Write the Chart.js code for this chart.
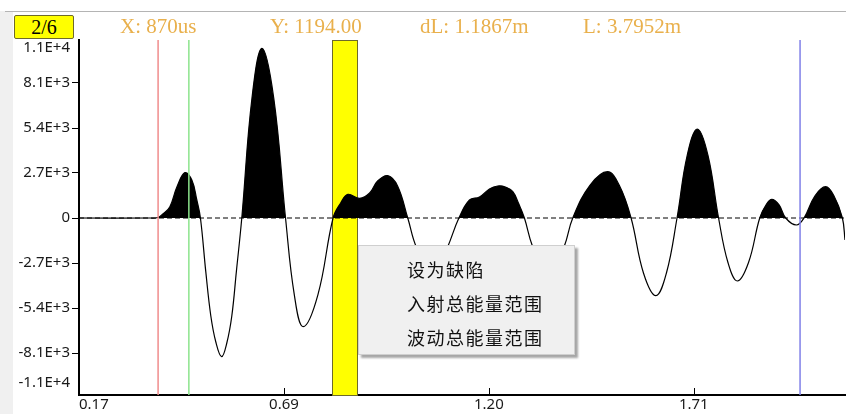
<!DOCTYPE html>
<html>
<head>
<meta charset="utf-8">
<script src="https://cdn.jsdelivr.net/npm/chart.js@4"></script>
<style>
  body { margin: 0; background: #fff; }
  #wrap { position: relative; width: 846px; height: 414px; overflow: hidden; }
  #strip { position: absolute; left: 0; top: 11px; width: 13px; height: 403px; background: #f0f0f0; }
  #topline { position: absolute; left: 5px; top: 11px; width: 841px; height: 1px; background: #b4b4b4; }
  #page { position: absolute; left: 14px; top: 15px; width: 58px; height: 22px; background: #ffff00;
          border: 1px solid #6e6a2a; border-radius: 2px; font: 20px "Liberation Serif"; line-height: 23px;
          text-align: center; color: #000; }
  .info { position: absolute; top: 16px; font: 21px "Liberation Serif"; line-height: 21px; color: #e9b04c; white-space: nowrap; }
  #menu { position: absolute; left: 358px; top: 245px; width: 215px; height: 108px; background: #f0f0f0;
          border: 1px solid #cfcfcf; box-shadow: 3px 3px 2px rgba(0,0,0,0.35); }
  .item { position: absolute; left: 48px; font: 18px "Noto Sans CJK SC"; letter-spacing: 1.5px; color: #111; line-height: 20px; white-space: nowrap; }
  canvas { position: absolute; left: 0; top: 0; }
</style>
</head>
<body>
<div id="wrap">
  <canvas id="wave" width="846" height="414"></canvas>
  <div id="strip"></div>
  <div id="topline"></div>
  <div id="page">2/6</div>
  <div class="info" style="left:120px">X: 870us</div>
  <div class="info" style="left:270px">Y: 1194.00</div>
  <div class="info" style="left:420px">dL: 1.1867m</div>
  <div class="info" style="left:583px">L: 3.7952m</div>
  <div id="menu">
    <div class="item" style="top:13px">设为缺陷</div>
    <div class="item" style="top:47px">入射总能量范围</div>
    <div class="item" style="top:81px">波动总能量范围</div>
  </div>
</div>
<script>
// ==========================
// 波形数据
// ==========================
const waveX = [
  0.174, 0.3515, 0.3715, 0.384, 0.4015, 0.419, 0.439, 0.4565, 0.469, 0.478,
  0.4915, 0.504, 0.5165, 0.531, 0.544, 0.5565, 0.568, 0.5815,
  0.607, 0.632, 0.6615, 0.691,
  0.713, 0.735, 0.772, 0.81,
  0.829, 0.847, 0.8765, 0.9015, 0.9215, 0.947, 0.9715, 0.997,
  1.018, 1.06, 1.097, 1.125,
  1.1515, 1.1765, 1.2015, 1.222, 1.2415, 1.26, 1.274, 1.289,
  1.309, 1.349, 1.389, 1.41,
  1.453, 1.497, 1.5265, 1.556,
  1.587, 1.618, 1.6445, 1.671,
  1.6965, 1.722, 1.7485, 1.775,
  1.7985, 1.822, 1.85, 1.878,
  1.894, 1.9083, 1.9265, 1.943,
  1.9697, 1.989,
  2.016, 2.043, 2.064, 2.085, 2.0915
];
const waveY = [
  0, 0, 30, 240, 680, 1860, 2720, 2280, 1080, 0,
  -3250, -5880, -7440, -8320, -7500, -5880, -3200, 0,
  7200, 10180, 7200, 0,
  -4610, -6520, -4610, 0,
  900, 1420, 1180, 1500, 2220, 2540, 1920, 0,
  -1720, -3600, -1720, 0,
  1080, 1260, 1740, 1920, 1860, 1580, 900, 0,
  -1680, -3780, -1680, 0,
  1960, 2780, 1960, 0,
  -3300, -4660, -3300, 0,
  3760, 5340, 3760, 0,
  -2670, -3780, -2670, 0,
  790, 1120, 790, 0,
  -420, 0,
  1320, 1880, 1320, 0, -1320
];

// 坐标轴
const xMin = 0.174, xMax = 2.0915;
const yMin = -10620, yMax = 10680;
const xTickValues = [0.174, 0.687, 1.2, 1.713];
const xTickLabels = ["0.17", "0.69", "1.20", "1.71"];
const yTickValues = [-9900, -8100, -5400, -2700, 0, 2700, 5400, 8100, 10200];
const yTickLabels = ["-1.1E+4", "-8.1E+3", "-5.4E+3", "-2.7E+3", "0", "2.7E+3", "5.4E+3", "8.1E+3", "1.1E+4"];

// 光标
const redCursor = 0.372;
const greenCursor = 0.449;
const blueCursor = 1.979;
const bandRange = [0.808, 0.871];

const vline = (x, color) => ({
  data: [{ x, y: yMin }, { x, y: yMax }],
  borderColor: color, borderWidth: 1.5, pointRadius: 0, fill: false
});

// 黄色区域（波形下面）
const bandPlugin = {
  id: "band",
  beforeDatasetsDraw(chart) {
    const { ctx, chartArea: a, scales: { x } } = chart;
    const x1 = x.getPixelForValue(bandRange[0]);
    const x2 = x.getPixelForValue(bandRange[1]);
    ctx.save();
    ctx.fillStyle = "#ffff00";
    ctx.fillRect(x1, a.top, x2 - x1, a.bottom - a.top);
    ctx.strokeStyle = "#6e6a2a";
    ctx.lineWidth = 1;
    ctx.strokeRect(Math.round(x1) + 0.5, a.top + 0.5, Math.round(x2 - x1), a.bottom - a.top);
    ctx.restore();
  }
};

// X轴刻度朝内
const innerTicks = {
  id: "innerTicks",
  afterDraw(chart) {
    const { ctx, chartArea: a, scales: { x } } = chart;
    ctx.save();
    ctx.strokeStyle = "#000";
    ctx.lineWidth = 1;
    xTickValues.slice(1).forEach(v => {
      const px = Math.round(x.getPixelForValue(v)) + 0.5;
      ctx.beginPath();
      ctx.moveTo(px, a.bottom);
      ctx.lineTo(px, a.bottom - 7);
      ctx.stroke();
    });
    ctx.restore();
  }
};

new Chart(document.getElementById("wave"), {
  type: "line",
  data: {
    datasets: [
      vline(redCursor, "rgb(240,140,140)"),
      vline(greenCursor, "rgb(140,228,140)"),
      vline(blueCursor, "rgb(128,128,232)"),
      {
        data: [{ x: xMin, y: 0 }, { x: xMax, y: 0 }],
        borderColor: "#000", borderWidth: 1, borderDash: [5, 3], pointRadius: 0, fill: false
      },
      {
        data: waveX.map((x, i) => ({ x, y: waveY[i] })),
        borderColor: "#000",
        borderWidth: 1.2,
        pointRadius: 0,
        tension: 0.4,
        fill: { target: "origin", above: "#000", below: "rgba(0,0,0,0)" }
      }
    ]
  },
  options: {
    responsive: false,
    animation: false,
    events: [],
    layout: { padding: { top: 40, left: 0, right: 0, bottom: 0 } },
    plugins: { legend: { display: false }, tooltip: { enabled: false } },
    scales: {
      x: {
        type: "linear",
        min: xMin,
        max: xMax,
        afterFit: s => { s.height = 19; },
        afterBuildTicks: s => { s.ticks = xTickValues.concat([xMax]).map(v => ({ value: v })); },
        ticks: {
          align: "inner",
          padding: 1,
          maxRotation: 0,
          autoSkip: false,
          color: "#1a1a1a",
          font: { family: "Noto Sans", size: 15 },
          callback: (v, i) => xTickLabels[i] || ""
        },
        grid: { drawOnChartArea: false, drawTicks: false },
        border: { color: "#000", width: 2 }
      },
      y: {
        type: "linear",
        min: yMin,
        max: yMax,
        afterFit: s => { s.width = 79; },
        afterBuildTicks: s => { s.ticks = yTickValues.map(v => ({ value: v })); },
        ticks: {
          padding: 2,
          autoSkip: false,
          color: "#1a1a1a",
          font: { family: "Noto Sans", size: 15 },
          callback: (v, i) => yTickLabels[i]
        },
        grid: {
          drawOnChartArea: false,
          tickLength: 7,
          tickColor: c => (c.index === 0 || c.index === yTickValues.length - 1) ? "rgba(0,0,0,0)" : "#000"
        },
        border: { color: "#000", width: 2 }
      }
    }
  },
  plugins: [bandPlugin, innerTicks]
});
</script>
</body>
</html>
